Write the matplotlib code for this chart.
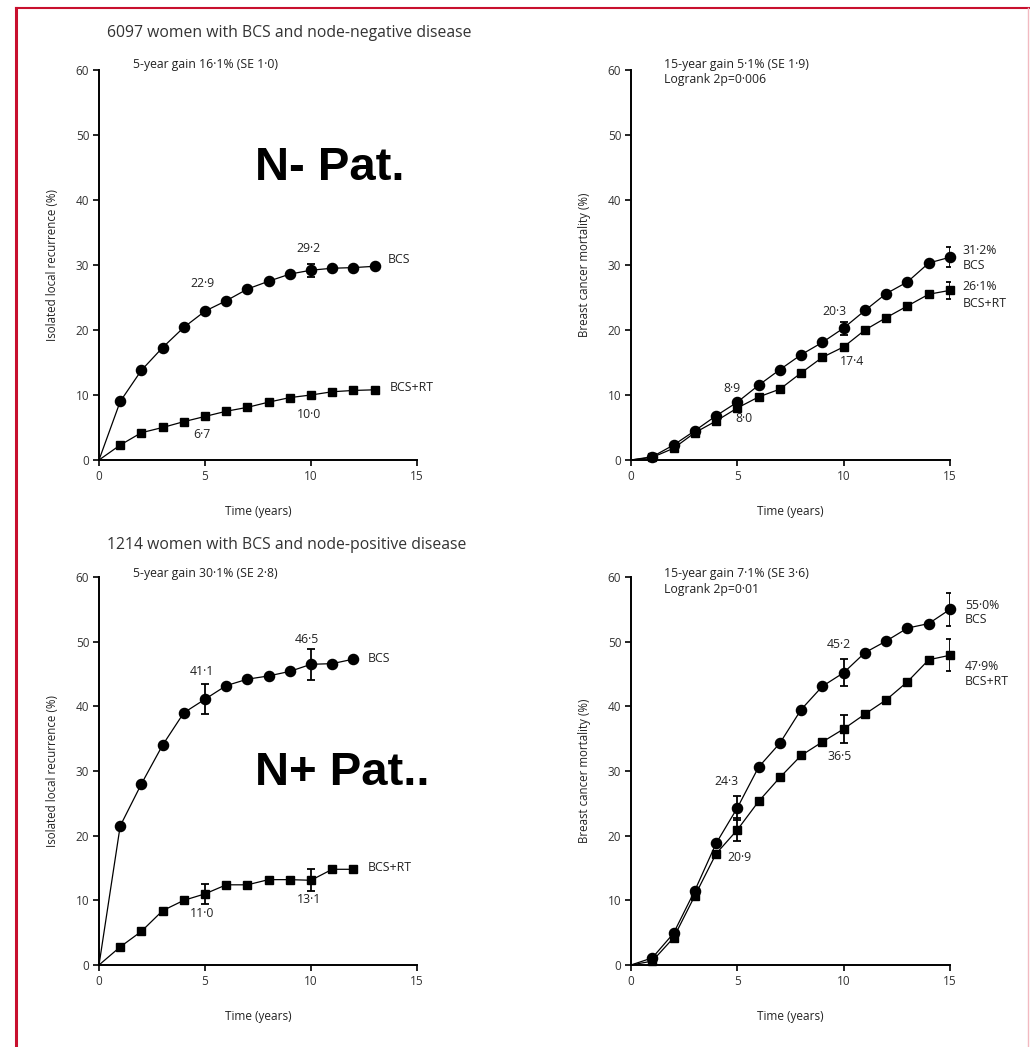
import matplotlib
matplotlib.use("Agg")
import matplotlib.pyplot as plt
from matplotlib.lines import Line2D

plt.rcParams['font.family'] = ['Open Sans', 'DejaVu Sans']

years = list(range(0, 16))

# Panel A: node-negative, isolated local recurrence
nn_lr_bcs = [0, 9.0, 13.8, 17.3, 20.4, 22.9, 24.5, 26.3, 27.5, 28.6, 29.2, 29.5, 29.6, 29.8]
nn_lr_rt = [0, 2.3, 4.2, 5.0, 5.9, 6.7, 7.5, 8.1, 8.9, 9.6, 10.0, 10.5, 10.7, 10.8]
nn_lr_err = {"bcs": {10: 1.0}, "rt": {}}

# Panel B: node-negative, breast cancer mortality
nn_bm_bcs = [0, 0.5, 2.3, 4.5, 6.8, 8.9, 11.5, 13.9, 16.2, 18.1, 20.3, 23.0, 25.6, 27.4, 30.3, 31.2]
nn_bm_rt = [0, 0.4, 1.8, 4.2, 6.0, 8.0, 9.7, 10.9, 13.4, 15.8, 17.4, 20.0, 21.9, 23.7, 25.5, 26.1]
nn_bm_err = {"bcs": {10: 1.0, 15: 1.5}, "rt": {15: 1.3}}

# Panel C: node-positive, isolated local recurrence
np_lr_bcs = [0, 21.5, 28.0, 34.0, 39.0, 41.1, 43.2, 44.2, 44.7, 45.4, 46.5, 46.6, 47.3]
np_lr_rt = [0, 2.8, 5.2, 8.4, 10.0, 11.0, 12.4, 12.4, 13.2, 13.2, 13.1, 14.8, 14.8]
np_lr_err = {"bcs": {5: 2.3, 10: 2.4}, "rt": {5: 1.6, 10: 1.7}}

# Panel D: node-positive, breast cancer mortality
np_bm_bcs = [0, 1.1, 4.9, 11.5, 18.8, 24.3, 30.6, 34.3, 39.5, 43.1, 45.2, 48.3, 50.1, 52.1, 52.8, 55.0]
np_bm_rt = [0, 0.6, 4.2, 10.7, 17.2, 20.9, 25.3, 29.0, 32.4, 34.5, 36.5, 38.8, 41.0, 43.8, 47.2, 47.9]
np_bm_err = {"bcs": {5: 1.8, 10: 2.1, 15: 2.6}, "rt": {5: 1.8, 10: 2.1, 15: 2.5}}

W, H = 1030, 1047
fig = plt.figure(figsize=(W / 100, H / 100), dpi=100)

def px_axes(x0, x1, ytop, ybot):
    return fig.add_axes([x0 / W, 1 - ybot / H, (x1 - x0) / W, (ybot - ytop) / H])

def style(ax, ylabel):
    ax.set_xlim(0, 15)
    ax.set_ylim(0, 60)
    ax.set_xticks([0, 5, 10, 15])
    ax.set_yticks([0, 10, 20, 30, 40, 50, 60])
    for s in ("top", "right"):
        ax.spines[s].set_visible(False)
    for s in ("left", "bottom"):
        ax.spines[s].set_linewidth(1.4)
    ax.tick_params(direction="out", length=4.5, width=1.2, labelsize=8.5,
                   colors="black", labelcolor="#333333", pad=2.5)
    ax.set_xlabel("Time (years)", fontsize=8.5, labelpad=16, color="#222222")
    ax.set_ylabel(ylabel, fontsize=8.3, labelpad=12, color="#222222")
    ax.patch.set_alpha(0)

def series(ax, vals, marker, ms, errs):
    xs = years[:len(vals)]
    ax.plot(xs, vals, color="black", lw=0.9, zorder=2, clip_on=False)
    ax.plot(xs[1:], vals[1:], linestyle="none", marker=marker, ms=ms,
            color="black", zorder=3, clip_on=False)
    for xe, e in errs.items():
        ax.errorbar([xe], [vals[xe]], yerr=[e], fmt="none", ecolor="black",
                    elinewidth=1.3, capsize=3, capthick=1.3, zorder=3)

def txt(ax, x, y, s, ha="center", size=8.8):
    ax.text(x, y, s, ha=ha, va="center", fontsize=size, color="#222222")

# ---- Panel A ----
ax1 = px_axes(99, 417, 70, 460)
style(ax1, "Isolated local recurrence (%)")
series(ax1, nn_lr_bcs, "o", 7.3, nn_lr_err["bcs"])
series(ax1, nn_lr_rt, "s", 6.3, nn_lr_err["rt"])
txt(ax1, 4.86, 27.2, "22·9")
txt(ax1, 9.86, 32.6, "29·2")
txt(ax1, 4.86, 3.85, "6·7")
txt(ax1, 9.9, 7.0, "10·0")
txt(ax1, 13.6, 30.8, "BCS", ha="left")
txt(ax1, 13.7, 11.1, "BCS+RT", ha="left")
txt(ax1, 1.6, 60.8, "5-year gain 16·1% (SE 1·0)", ha="left")

# ---- Panel B ----
ax2 = px_axes(631, 950, 70, 460)
style(ax2, "Breast cancer mortality (%)")
series(ax2, nn_bm_bcs, "o", 7.3, nn_bm_err["bcs"])
series(ax2, nn_bm_rt, "s", 6.3, nn_bm_err["rt"])
txt(ax2, 4.74, 11.0, "8·9")
txt(ax2, 5.3, 6.4, "8·0")
txt(ax2, 9.56, 22.8, "20·3")
txt(ax2, 10.4, 15.1, "17·4")
txt(ax2, 15.6, 32.2, "31·2%", ha="left")
txt(ax2, 15.6, 29.9, "BCS", ha="left")
txt(ax2, 15.6, 26.7, "26·1%", ha="left")
txt(ax2, 15.6, 24.1, "BCS+RT", ha="left")
txt(ax2, 1.56, 60.9, "15-year gain 5·1% (SE 1·9)", ha="left")
txt(ax2, 1.56, 58.5, "Logrank 2p=0·006", ha="left")

# ---- Panel C ----
ax3 = px_axes(99, 417, 577, 965)
style(ax3, "Isolated local recurrence (%)")
series(ax3, np_lr_bcs, "o", 7.3, np_lr_err["bcs"])
series(ax3, np_lr_rt, "s", 6.3, np_lr_err["rt"])
txt(ax3, 4.86, 45.4, "41·1")
txt(ax3, 9.8, 50.3, "46·5")
txt(ax3, 4.86, 7.9, "11·0")
txt(ax3, 9.9, 10.1, "13·1")
txt(ax3, 12.7, 47.4, "BCS", ha="left")
txt(ax3, 12.7, 15.1, "BCS+RT", ha="left")
txt(ax3, 1.6, 60.5, "5-year gain 30·1% (SE 2·8)", ha="left")

# ---- Panel D ----
ax4 = px_axes(631, 950, 577, 965)
style(ax4, "Breast cancer mortality (%)")
series(ax4, np_bm_bcs, "o", 7.3, np_bm_err["bcs"])
series(ax4, np_bm_rt, "s", 6.3, np_bm_err["rt"])
txt(ax4, 4.5, 28.3, "24·3")
txt(ax4, 5.1, 16.7, "20·9")
txt(ax4, 9.75, 49.5, "45·2")
txt(ax4, 9.8, 32.3, "36·5")
txt(ax4, 15.7, 55.6, "55·0%", ha="left")
txt(ax4, 15.7, 53.4, "BCS", ha="left")
txt(ax4, 15.7, 46.1, "47·9%", ha="left")
txt(ax4, 15.7, 43.8, "BCS+RT", ha="left")
txt(ax4, 1.56, 60.5, "15-year gain 7·1% (SE 3·6)", ha="left")
txt(ax4, 1.56, 58.0, "Logrank 2p=0·01", ha="left")

# Section titles
fig.text(107 / W, 1 - 33 / H, "6097 women with BCS and node-negative disease",
         ha="left", va="center", fontsize=11.3, color="#333333")
fig.text(107 / W, 1 - 545 / H, "1214 women with BCS and node-positive disease",
         ha="left", va="center", fontsize=11.3, color="#333333")

# Big overlay labels
fig.text(255 / W, 1 - 168 / H, "N- Pat.", ha="left", va="center",
         fontsize=34, fontweight="bold", family="Liberation Sans", color="black")
fig.text(255 / W, 1 - 773 / H, "N+ Pat..", ha="left", va="center",
         fontsize=34, fontweight="bold", family="Liberation Sans", color="black")

# Red frame
fig.add_artist(Line2D([16 / W, 16 / W], [0, 1 - 8 / H], color="#c8102e", lw=2.2))
fig.add_artist(Line2D([16 / W, 1], [1 - 8 / H, 1 - 8 / H], color="#c8102e", lw=1.5))
fig.add_artist(Line2D([1028 / W, 1028 / W], [0, 1 - 8 / H], color="#f2b8c0", lw=1.0))

fig.savefig("out.png", dpi=100, facecolor="white")
